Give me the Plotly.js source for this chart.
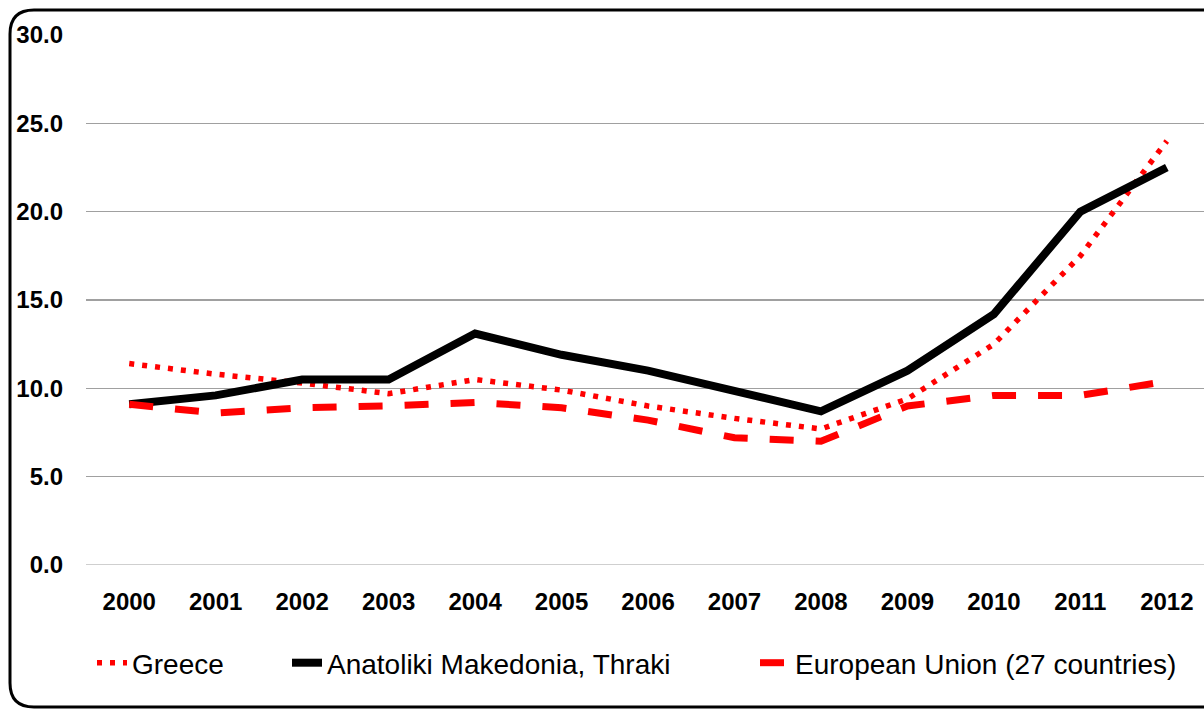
<!DOCTYPE html>
<html>
<head>
<meta charset="utf-8">
<script src="https://cdn.plot.ly/plotly-3.0.1.min.js"></script>
<style>
  html, body { margin: 0; padding: 0; background: #ffffff; }
  #chart { width: 1204px; height: 711px; }
</style>
</head>
<body>
<div id="chart"></div>
<script>
// ---- data ----
const years = ["2000","2001","2002","2003","2004","2005","2006","2007","2008","2009","2010","2011","2012"];
const greece = [11.4, 10.8, 10.3, 9.7, 10.5, 9.9, 9.0, 8.3, 7.7, 9.4, 12.5, 17.5, 24.0];
const anatoliki = [9.1, 9.6, 10.5, 10.5, 13.1, 11.9, 11.0, 9.8, 8.7, 11.0, 14.2, 20.0, 22.5];
const eu27 = [9.1, 8.6, 8.9, 9.0, 9.2, 8.9, 8.2, 7.2, 7.0, 9.0, 9.6, 9.6, 10.4];
const seriesNames = ["Greece", "Anatoliki Makedonia, Thraki", "European Union (27 countries)"];
const yTicks = [0, 5, 10, 15, 20, 25, 30];
const yTickText = ["0.0", "5.0", "10.0", "15.0", "20.0", "25.0", "30.0"];

// ---- layout helpers (pixel -> paper) ----
const W = 1204, H = 711;
const mL = 86, mR = 0, mT = 35, mB = 146;
const pw = W - mL - mR, ph = H - mT - mB;
const px = x => (x - mL) / pw;
const py = y => (H - mB - y) / ph;

const FONT = "Liberation Sans, Arial, sans-serif";

const traces = [
  { x: years, y: greece, name: seriesNames[0], type: "scatter", mode: "lines",
    line: { color: "#ff0000", width: 5.5, dash: "5px,8px" }, legend: "legend" },
  { x: years, y: anatoliki, name: seriesNames[1], type: "scatter", mode: "lines",
    line: { color: "#000000", width: 8 }, legend: "legend2" },
  { x: years, y: eu27, name: seriesNames[2], type: "scatter", mode: "lines",
    line: { color: "#ff0000", width: 7, dash: "24px,22px" }, legend: "legend3" }
];

// rounded frame
const r = 24, L = 10, T = 10, B = 707, R = 1230;
const framePath =
  `M ${px(L + r)},${py(T)} L ${px(R)},${py(T)} L ${px(R)},${py(B)} L ${px(L + r)},${py(B)} ` +
  `Q ${px(L)},${py(B)} ${px(L)},${py(B - r)} L ${px(L)},${py(T + r)} ` +
  `Q ${px(L)},${py(T)} ${px(L + r)},${py(T)} Z`;

const legendFont = { family: FONT, size: 28, color: "#000000" };
const legendBase = { orientation: "h", yanchor: "middle", xanchor: "left",
  y: py(663), bgcolor: "rgba(0,0,0,0)", font: legendFont, borderwidth: 0 };

const layout = {
  width: W, height: H,
  margin: { l: mL, r: mR, t: mT, b: mB },
  paper_bgcolor: "#ffffff",
  plot_bgcolor: "#ffffff",
  showlegend: true,
  xaxis: {
    type: "category",
    range: [-0.5, 12.43],
    showgrid: false, zeroline: false, showline: false,
    ticks: "",
    ticklabelstandoff: 20,
    tickfont: { family: FONT, size: 24, color: "#000000", weight: "bold" },
    fixedrange: true
  },
  yaxis: {
    range: [0, 30],
    tickvals: yTicks, ticktext: yTickText,
    showgrid: true, gridcolor: "#a0a0a0", gridwidth: 1.2,
    zeroline: false, showline: false,
    ticks: "",
    ticklabelstandoff: 22,
    tickfont: { family: FONT, size: 24, color: "#000000", weight: "bold" },
    fixedrange: true
  },
  legend:  Object.assign({}, legendBase, { x: px(92) }),
  legend2: Object.assign({}, legendBase, { x: px(287) }),
  legend3: Object.assign({}, legendBase, { x: px(755) }),
  shapes: [
    { type: "line", xref: "paper", yref: "y", x0: 0, x1: 1, y0: 0, y1: 0,
      line: { color: "#a0a0a0", width: 1.2 }, layer: "below" },
    { type: "path", xref: "paper", yref: "paper", path: framePath,
      line: { color: "#000000", width: 3 }, fillcolor: "rgba(0,0,0,0)", layer: "above" }
  ]
};

Plotly.newPlot("chart", traces, layout, { displayModeBar: false, staticPlot: true });
</script>
</body>
</html>
